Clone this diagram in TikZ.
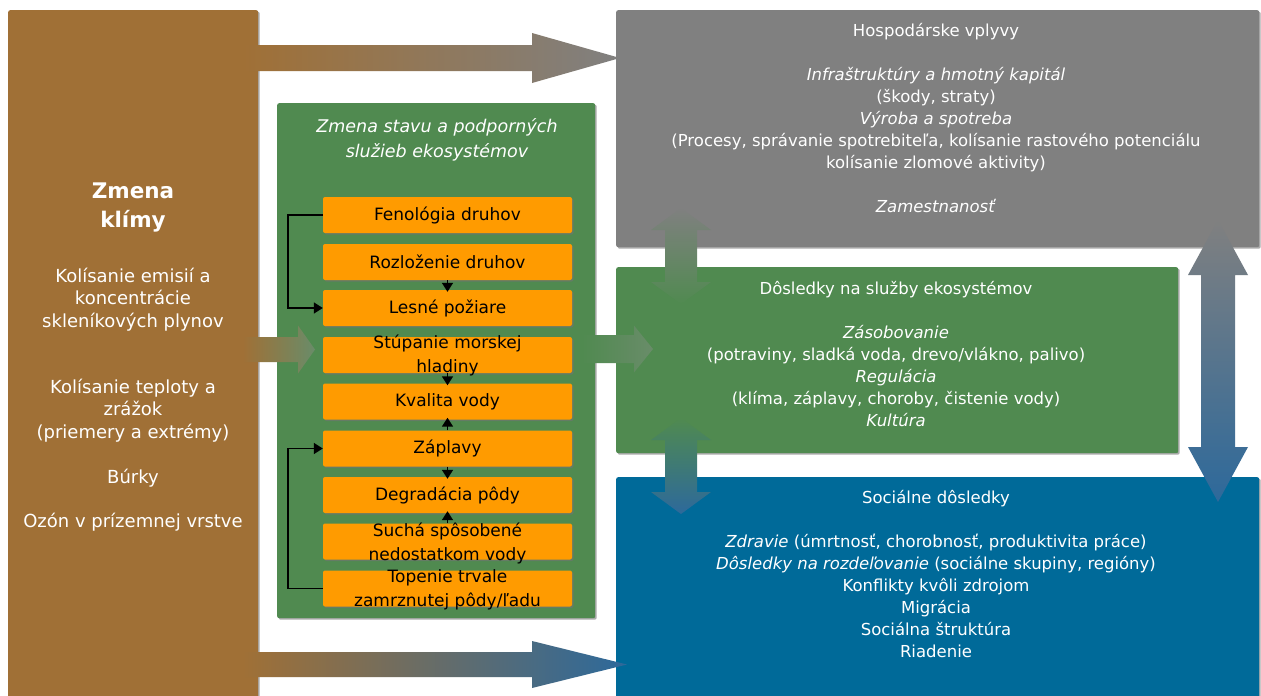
\documentclass[tikz,border=0pt]{standalone}
\usepackage{fontspec}
\setmainfont{DejaVu Sans}
\usetikzlibrary{arrows.meta,calc}
\definecolor{brownc}{RGB}{160,112,54}
\definecolor{grayc}{RGB}{128,128,128}
\definecolor{greenc}{RGB}{80,138,80}
\definecolor{bluec}{RGB}{0,106,153}
\definecolor{orangec}{RGB}{255,155,0}
\definecolor{arrowblue}{RGB}{45,105,155}
\definecolor{lgreen}{RGB}{105,140,105}
% horizontal block arrow: style, x start, x tip, y centre, shaft half, head half, head length
\newcommand{\harrow}[7]{\shade[#1] (#2,#4-#5) -- (#3-#7,#4-#5) -- (#3-#7,#4-#6) -- (#3,#4) -- (#3-#7,#4+#6) -- (#3-#7,#4+#5) -- (#2,#4+#5) -- cycle;}
% vertical double block arrow: style, x centre, y top, y bottom, shaft half, head half, head length
\newcommand{\vdarrow}[7]{\shade[#1] (#2,#3) -- (#2+#6,#3+#7) -- (#2+#5,#3+#7) -- (#2+#5,#4-#7) -- (#2+#6,#4-#7) -- (#2,#4) -- (#2-#6,#4-#7) -- (#2-#5,#4-#7) -- (#2-#5,#3+#7) -- (#2-#6,#3+#7) -- cycle;}
\begin{document}
\begin{tikzpicture}[x=1pt,y=-1pt,
  panel/.style={draw=none, rounded corners=2pt, inner sep=0pt, anchor=north west,
    preaction={fill=black!55, opacity=0.6, transform canvas={xshift=1.5pt,yshift=-1.5pt}}},
  obox/.style={panel, anchor=center, fill=orangec, minimum width=249, minimum height=36},
  otext/.style={inner sep=0pt, align=center, text=black, font=\fontsize{17}{24}\selectfont},
  wtext/.style={inner sep=0pt, align=center, text=white, font=\fontsize{16.5}{22}\selectfont},
  ltext/.style={inner sep=0pt, align=center, text=white, font=\fontsize{18}{22.5}\selectfont},
  conn/.style={line width=1.6pt, shorten >=-2pt, -{Triangle[length=9pt,width=11pt]}},
]
\useasboundingbox[fill=white] (0,0) rectangle (1261,696);

% main panels
\node[panel, fill=brownc, minimum width=250, minimum height=700] (clim) at (8,10) {};
\node[panel, fill=greenc, minimum width=318, minimum height=515] (eco) at (277,103) {};
\node[panel, fill=grayc, minimum width=643, minimum height=237] (econ) at (616,10) {};
\node[panel, fill=greenc, minimum width=562, minimum height=186] (serv) at (616,267) {};
\node[panel, fill=bluec, minimum width=643, minimum height=230] (soc) at (616,477) {};

% texts of panels
\node[ltext, font=\bfseries\fontsize{21.5}{29}\selectfont] (climt) at (133,207.5) {Zmena\\klímy};
\node[ltext] (climl) at (133,399.5) {Kolísanie emisií a\\koncentrácie\\skleníkových plynov\\[43.5pt]Kolísanie teploty a\\zrážok\\(priemery a extrémy)\\[22.5pt]Búrky\\[22pt]Ozón v prízemnej vrstve};
\node[wtext, font=\itshape\fontsize{17.5}{25}\selectfont] (ecot) at (437,139.5) {Zmena stavu a podporných\\služieb ekosystémov};
\node[wtext] (econt) at (936,118.5) {Hospodárske vplyvy\\[22pt]\textit{Infraštruktúry a hmotný kapitál}\\(škody, straty)\\\textit{Výroba a spotreba}\\(Procesy, správanie spotrebiteľa, kolísanie rastového potenciálu\\kolísanie zlomové aktivity)\\[22pt]\textit{Zamestnanosť}};
\node[wtext] (servt) at (896,354) {Dôsledky na služby ekosystémov\\[22pt]\textit{Zásobovanie}\\(potraviny, sladká voda, drevo/vlákno, palivo)\\\textit{Regulácia}\\(klíma, záplavy, choroby, čistenie vody)\\\textit{Kultúra}};
\node[wtext] (soct) at (936,574.5) {Sociálne dôsledky\\[22pt]\textit{Zdravie} (úmrtnosť, chorobnosť, produktivita práce)\\\textit{Dôsledky na rozdeľovanie} (sociálne skupiny, regióny)\\Konflikty kvôli zdrojom\\Migrácia\\Sociálna štruktúra\\Riadenie};

% orange boxes
\node[obox] (o1) at (447.5,215) {};
\node[obox] (o2) at (447.5,262) {};
\node[obox] (o3) at (447.5,308) {};
\node[obox] (o4) at (447.5,355) {};
\node[obox] (o5) at (447.5,401.5) {};
\node[obox] (o6) at (447.5,448.5) {};
\node[obox] (o7) at (447.5,495) {};
\node[obox] (o8) at (447.5,541.5) {};
\node[obox] (o9) at (447.5,588.5) {};
\node[otext] (t1) at (o1) {Fenológia druhov};
\node[otext] (t2) at (o2) {Rozloženie druhov};
\node[otext] (t3) at (o3) {Lesné požiare};
\node[otext] (t4) at (o4) {Stúpanie morskej\\hladiny};
\node[otext] (t5) at (o5) {Kvalita vody};
\node[otext] (t6) at (o6) {Záplavy};
\node[otext] (t7) at (o7) {Degradácia pôdy};
\node[otext] (t8) at ($(o8)+(0,2)$) {Suchá spôsobené\\nedostatkom vody};
\node[otext] (t9) at ($(o9)+(0,1.5)$) {Topenie trvale\\zamrznutej pôdy/ľadu};

% connectors between orange boxes
\draw[conn] (o2.south) -- (o3.north);
\draw[conn] (o4.south) -- (o5.north);
\draw[conn] (o6.north) -- (o5.south);
\draw[conn] (o6.south) -- (o7.north);
\draw[conn] (o8.north) -- (o7.south);
\draw[conn, shorten >=0pt] (o1.west) -- ++(-35,0) |- (o3.west);
\draw[conn, shorten >=0pt] (o9.west) -- ++(-35,0) |- (o6.west);

% block arrows
\harrow{left color=brownc, right color=grayc}{243}{620}{58}{13}{25}{88}
\harrow{left color=brownc, right color=arrowblue}{243}{627}{664.5}{12.5}{23.5}{95}
\harrow{left color=brownc, right color=lgreen}{243}{315}{349.5}{12.5}{24}{17}
\harrow{left color=greenc, right color=lgreen}{582}{653}{349}{14}{23.5}{19}
\vdarrow{top color=grayc, bottom color=greenc}{681}{208}{304}{16}{30}{22}
\vdarrow{top color=greenc, bottom color=arrowblue}{681}{418}{514}{16}{30}{22}
\vdarrow{top color=grayc, bottom color=arrowblue}{1218}{220}{502}{17}{30}{55}
\end{tikzpicture}
\end{document}
